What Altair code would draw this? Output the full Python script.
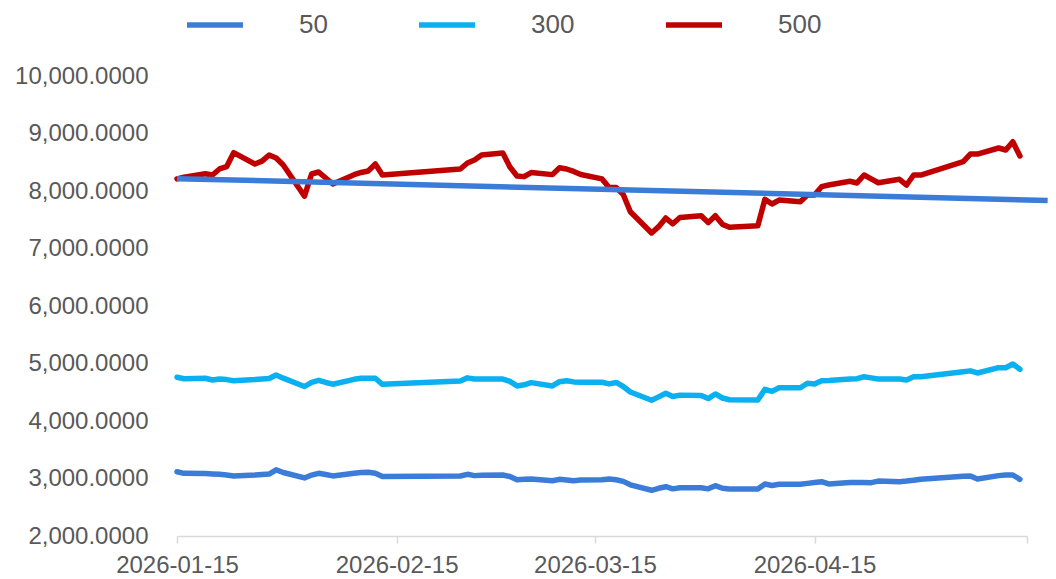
import altair as alt
import pandas as pd

dates = [
    "2026-01-15", "2026-01-16", "2026-01-19", "2026-01-20", "2026-01-21", "2026-01-22",
    "2026-01-23", "2026-01-26", "2026-01-27", "2026-01-28", "2026-01-29", "2026-01-30",
    "2026-02-02", "2026-02-03", "2026-02-04", "2026-02-05", "2026-02-06", "2026-02-09",
    "2026-02-10", "2026-02-11", "2026-02-12", "2026-02-13", "2026-02-24", "2026-02-25",
    "2026-02-26", "2026-02-27",
    "2026-03-02", "2026-03-03", "2026-03-04", "2026-03-05", "2026-03-06", "2026-03-09",
    "2026-03-10", "2026-03-11", "2026-03-12", "2026-03-13", "2026-03-16", "2026-03-17",
    "2026-03-18", "2026-03-19", "2026-03-20", "2026-03-23", "2026-03-24", "2026-03-25",
    "2026-03-26", "2026-03-27", "2026-03-30", "2026-03-31",
    "2026-04-01", "2026-04-02", "2026-04-03", "2026-04-07", "2026-04-08", "2026-04-09",
    "2026-04-10", "2026-04-13", "2026-04-14", "2026-04-15", "2026-04-16", "2026-04-17",
    "2026-04-20", "2026-04-21", "2026-04-22", "2026-04-23", "2026-04-24", "2026-04-27",
    "2026-04-28", "2026-04-29", "2026-04-30",
    "2026-05-06", "2026-05-07", "2026-05-08", "2026-05-11", "2026-05-12", "2026-05-13",
    "2026-05-14",
]

s50 = [
    3118, 3090, 3085, 3080, 3073, 3060, 3045, 3060, 3070, 3078, 3150, 3105,
    3010, 3060, 3090, 3070, 3045, 3090, 3105, 3108, 3090, 3035, 3043, 3073, 3050, 3055,
    3061, 3035, 2980, 2985, 2990, 2960, 2985, 2975, 2960, 2972, 2978, 2990, 2978, 2950,
    2890, 2795, 2830, 2857, 2820, 2840, 2840, 2820,
    2875, 2830, 2817, 2817, 2904, 2878, 2899, 2899, 2915, 2930, 2944, 2905, 2932, 2932,
    2930, 2928, 2955, 2945, 2955, 2970, 2986,
    3040, 3043, 2990, 3050, 3061, 3061, 2986,
]

s300 = [
    4760, 4736, 4743, 4713, 4730, 4720, 4701, 4720, 4730, 4740, 4800, 4745,
    4600, 4673, 4708, 4670, 4640, 4725, 4743, 4743, 4743, 4638, 4696, 4750, 4730, 4730,
    4730, 4690, 4610, 4630, 4667, 4610, 4684, 4701, 4680, 4673, 4673, 4645, 4670, 4600,
    4505, 4360, 4420, 4482, 4425, 4450, 4445, 4390,
    4470, 4400, 4370, 4365, 4551, 4515, 4579, 4579, 4656, 4645, 4701, 4705, 4730, 4736,
    4770, 4750, 4730, 4730, 4713, 4770, 4770,
    4856, 4872, 4835, 4927, 4927, 4991, 4899,
]

s500 = [
    8210, 8240, 8300, 8278, 8383, 8423, 8667, 8470, 8520, 8626, 8574, 8452,
    7910, 8296, 8330, 8226, 8122, 8283, 8322, 8348, 8470, 8280, 8383, 8487, 8539, 8626,
    8660, 8417, 8260, 8250, 8320, 8285, 8405, 8383, 8340, 8287, 8210, 8060, 8060, 7940,
    7640, 7270, 7380, 7530, 7430, 7540, 7570, 7450,
    7570, 7420, 7370, 7397, 7855, 7774, 7843, 7814, 7930, 7930, 8075, 8104, 8169, 8140,
    8278, 8210, 8144, 8203, 8104, 8278, 8278,
    8510, 8643, 8643, 8748, 8713, 8857, 8609,
]

series_names = ["50", "300", "500"]
series_colors = ["#3A7CD7", "#0AB0F0", "#C00000"]

trend_dates = ["2026-01-15T00:00:00Z", "2026-05-17T22:00:00Z"]
trend_values = [8215, 7836]

yticks = [2000, 3000, 4000, 5000, 6000, 7000, 8000, 9000, 10000]
xtick_dates = [(2026, 1, 15), (2026, 2, 15), (2026, 3, 15), (2026, 4, 15), (2026, 5, 15)]

rows = []
for name, vals in zip(series_names, [s50, s300, s500]):
    for d, v in zip(dates, vals):
        rows.append({"date": d + "T00:00:00Z", "series": name, "value": v})
df = pd.DataFrame(rows)
trend_df = pd.DataFrame({"date": trend_dates, "value": trend_values})

FONT = "Liberation Sans"
GREY = "#595959"

x_dt = [alt.DateTime(year=y, month=m, date=d, utc=True) for (y, m, d) in xtick_dates]

x_enc = alt.X(
    "date:T",
    scale=alt.Scale(type="utc", domain=[x_dt[0], x_dt[-1]]),
    axis=alt.Axis(
        values=x_dt,
        labelExpr="utcmonth(datum.value) == 4 ? '' : utcFormat(datum.value, '%Y-%m-%d')",
        title=None,
        grid=False,
        domainColor="#D9D9D9",
        domainWidth=1.5,
        tickColor="#D9D9D9",
        tickWidth=1.5,
        tickSize=7,
        labelFlush=False,
        labelOverlap=False,
        labelFont=FONT,
        labelFontSize=24,
        labelColor=GREY,
        labelPadding=10,
    ),
)

y_enc = alt.Y(
    "value:Q",
    scale=alt.Scale(domain=[yticks[0], yticks[-1]], nice=False, zero=False),
    axis=alt.Axis(
        values=yticks,
        format=",.4f",
        title=None,
        grid=False,
        domain=False,
        ticks=False,
        tickSize=0,
        labelPadding=29,
        labelFont=FONT,
        labelFontSize=24,
        labelColor=GREY,
    ),
)

lines = alt.Chart(df).mark_line(strokeWidth=5.5, strokeJoin="round", strokeCap="round").encode(
    x=x_enc,
    y=y_enc,
    color=alt.Color(
        "series:N",
        scale=alt.Scale(domain=series_names, range=series_colors),
        legend=alt.Legend(
            orient="none",
            legendX=7,
            legendY=-82,
            direction="horizontal",
            title=None,
            symbolType="stroke",
            symbolSize=3136,
            symbolStrokeWidth=5.5,
            labelFont=FONT,
            labelFontSize=26,
            labelColor=GREY,
            labelOffset=53,
            columnPadding=80,
        ),
    ),
    order=alt.Order("date:T"),
)

trend = alt.Chart(trend_df).mark_line(strokeWidth=5.5, strokeCap="butt", color=series_colors[0]).encode(
    x=alt.X("date:T"),
    y=alt.Y("value:Q"),
)

chart = alt.layer(lines, trend).properties(
    width=850,
    height=460,
    autosize=alt.AutoSizeParams(type="none"),
    padding={"left": 169, "top": 68, "right": 21, "bottom": 43},
).configure(background="white").configure_view(strokeWidth=0, stroke="transparent")

chart.save("out.html", embed_options={"renderer": "svg", "actions": False})
